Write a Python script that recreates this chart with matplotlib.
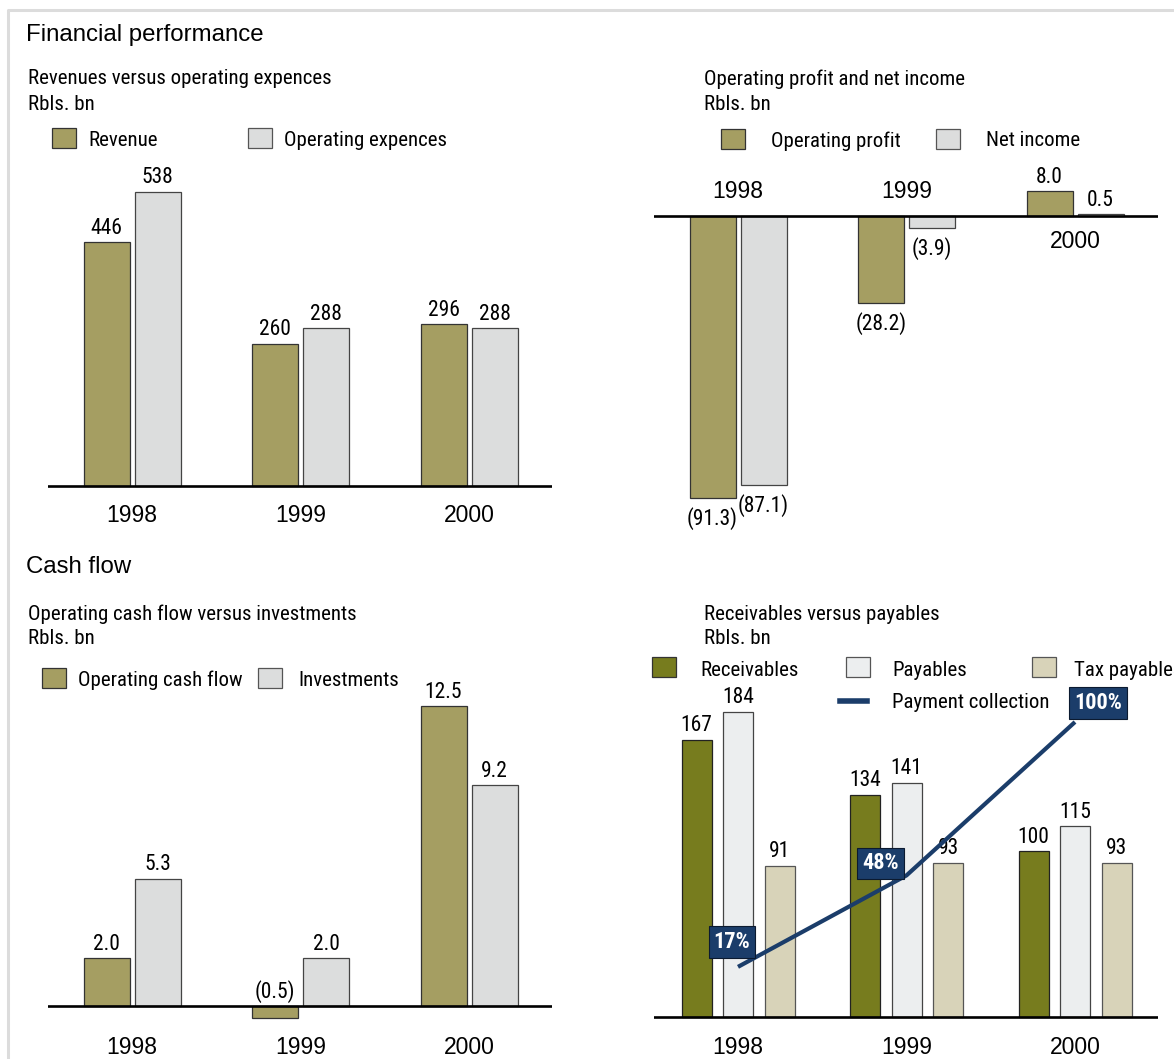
import matplotlib
matplotlib.use('Agg')
import matplotlib.pyplot as plt
from matplotlib import font_manager as fm
from matplotlib.patches import Rectangle
from matplotlib.lines import Line2D

# --- DATA ---
years = ['1998', '1999', '2000']

revenue = [446, 260, 296]
operating_expences = [538, 288, 288]

operating_profit = [-91.3, -28.2, 8.0]
net_income = [-87.1, -3.9, 0.5]

operating_cash_flow = [2.0, -0.5, 12.5]
investments = [5.3, 2.0, 9.2]

receivables = [167, 134, 100]
payables = [184, 141, 115]
tax_payables = [91, 93, 93]
payment_collection = [17, 48, 100]

# --- STYLE ---
W, H = 1174, 1059
C_KHAKI = '#a59e62'
C_GREY = '#dcdddd'
C_OLIVE = '#777c1e'
C_PALE = '#eceeef'
C_TAN = '#d8d3b9'
C_BLUE = '#1b3d6a'
SPACING = 168.5  # px between year groups


def find_font(patterns):
    # the original uses a condensed face; take the first condensed file we have
    files = [f.fname for f in fm.fontManager.ttflist]
    for p in patterns:
        for fn in files:
            if p in fn.split('/')[-1]:
                return fn
    return None


NARROW_FILE = find_font(['LiberationSansNarrow-Regular', 'RobotoCondensed-Regular',
                         'Roboto_Condensed-Regular', 'NotoSans-Condensed.',
                         'NotoSans-CondensedRegular', 'DejaVuSansCondensed.',
                         'OpenSans_Condensed-Regular', 'OpenSansCondensed-Regular'])
NARROW_BOLD_FILE = find_font(['LiberationSansNarrow-Bold.', 'RobotoCondensed-Bold.',
                              'Roboto_Condensed-Bold.', 'NotoSans-CondensedBold.',
                              'DejaVuSansCondensed-Bold.', 'OpenSans_Condensed-Bold.',
                              'OpenSansCondensed-Bold.'])


def narrow(size, bold=False):
    fn = NARROW_BOLD_FILE if bold else NARROW_FILE
    if fn:
        return fm.FontProperties(fname=fn, size=size)
    return fm.FontProperties(family=['Liberation Sans', 'DejaVu Sans'], size=size * 0.86,
                             weight='bold' if bold else 'normal')


def regular(size):
    return fm.FontProperties(family=['Liberation Sans', 'DejaVu Sans'], size=size)


fig = plt.figure(figsize=(W / 100, H / 100), dpi=100)


def fx(px):
    return px / W


def fy(py):
    return 1 - py / H


def panel(left, base, top, bottom, scale):
    # axes whose x unit is one year group and whose y unit is one data unit
    ax = fig.add_axes([fx(left), fy(bottom), fx(504), (bottom - top) / H])
    ax.set_xlim(-84 / SPACING, (504 - 84) / SPACING)
    ax.set_ylim(-(bottom - base) / scale, (base - top) / scale)
    ax.axis('off')
    ax.axhline(0, color='black', lw=1.9, zorder=5)
    return ax


def fmt(v, dec):
    s = f'{abs(v):.{dec}f}'
    return f'({s})' if v < 0 else s


def legend_patch(x, y, color, edge='#333333'):
    fig.patches.append(Rectangle((fx(x), fy(y + 20)), fx(24), 20 / H, facecolor=color,
                                 edgecolor=edge, lw=0.9, transform=fig.transFigure))


def ftext(x, y, s, fp=None):
    # y is the visual centre line in px; +2 compensates for descender space
    fig.text(fx(x), fy(y + 2), s, fontproperties=fp or narrow(15), va='center')


# page frame
fig.add_artist(Line2D([fx(8), fx(8), 1], [0, fy(10), fy(10)], color='#dcdcdc', lw=2.2,
                      transform=fig.transFigure))

# headings
ftext(26, 33, 'Financial performance', regular(17.3))
ftext(26, 565, 'Cash flow', regular(17.3))
ftext(28, 77, 'Revenues versus operating expences')
ftext(28, 102, 'Rbls. bn')
ftext(704, 77, 'Operating profit and net income')
ftext(704, 102, 'Rbls. bn')
ftext(28, 612, 'Operating cash flow versus investments')
ftext(28, 637, 'Rbls. bn')
ftext(704, 612, 'Receivables versus payables')
ftext(704, 637, 'Rbls. bn')

# legends
legend_patch(52, 128, C_KHAKI)
ftext(88, 138, 'Revenue')
legend_patch(248, 128, C_GREY, '#555555')
ftext(284, 138, 'Operating expences')

legend_patch(721, 129, C_KHAKI)
ftext(771, 139, 'Operating profit')
legend_patch(936, 129, C_GREY, '#555555')
ftext(986, 139, 'Net income')

legend_patch(42, 668, C_KHAKI)
ftext(78, 678, 'Operating cash flow')
legend_patch(258, 668, C_GREY, '#555555')
ftext(298, 678, 'Investments')

legend_patch(652, 657, C_OLIVE)
ftext(700, 668, 'Receivables')
legend_patch(846, 657, C_PALE, '#555555')
ftext(892, 668, 'Payables')
legend_patch(1032, 657, C_TAN, '#555555')
ftext(1074, 668, 'Tax payables')
fig.add_artist(Line2D([fx(840), fx(867)], [fy(701), fy(701)], color=C_BLUE, lw=4,
                      transform=fig.transFigure))
ftext(892, 700, 'Payment collection')

x = range(len(years))
bw = 46 / SPACING
off = 25.5 / SPACING


def bars(ax, series, colors, edges, width, offsets, dec, neg_above=False):
    for vals, c, e, o in zip(series, colors, edges, offsets):
        xs = [i + o for i in x]
        ax.bar(xs, vals, width=width, color=c, edgecolor=e, lw=0.9, zorder=3)
        for xi, v in zip(xs, vals):
            if v >= 0 or neg_above:
                ax.annotate(fmt(v, dec), (xi, max(v, 0)), xytext=(0, 2.5),
                            textcoords='offset points', ha='center', va='bottom',
                            fontproperties=narrow(15.5))
            else:
                ax.annotate(fmt(v, dec), (xi, v), xytext=(0, -6.5),
                            textcoords='offset points', ha='center', va='top',
                            fontproperties=narrow(15.5))


def year_labels(ax, dy_px, series=None):
    for i, yr in enumerate(years):
        d = dy_px
        if series is not None and max(s[i] for s in series) <= 0:
            d = -dy_px
        ax.annotate(yr, (i, 0), xytext=(0, -d * 0.72), textcoords='offset points',
                    ha='center', va='center', fontproperties=regular(16.5))


# panel 1: revenues vs operating expences
ax1 = panel(48, 486, 170, 530, 0.547)
bars(ax1, [revenue, operating_expences], [C_KHAKI, C_GREY], ['#333333', '#444444'],
     bw, [-off, off], 0)
year_labels(ax1, 29)

# panel 2: operating profit and net income
ax2 = panel(654, 216, 165, 535, 3.09)
bars(ax2, [operating_profit, net_income], [C_KHAKI, C_GREY], ['#333333', '#444444'],
     bw, [-off, off], 1)
year_labels(ax2, 25, [operating_profit, net_income])

# panel 3: operating cash flow vs investments
ax3 = panel(48, 1006, 690, 1059, 24.0)
bars(ax3, [operating_cash_flow, investments], [C_KHAKI, C_GREY], ['#333333', '#444444'],
     bw, [-off, off], 1, neg_above=True)
year_labels(ax3, 41)

# panel 4: receivables vs payables
ax4 = panel(654, 1017, 690, 1059, 1.66)
bw4 = 30 / SPACING
off4 = 41.5 / SPACING
bars(ax4, [receivables, payables, tax_payables], [C_OLIVE, C_PALE, C_TAN],
     ['#222222', '#444444', '#555555'], bw4, [-off4, 0, off4], 0)
year_labels(ax4, 30)

ax4b = ax4.twinx()
ax4b.set_ylim(-(1059 - 1017) / 2.95, (1017 - 690) / 2.95)
ax4b.axis('off')
ax4b.plot(list(x), payment_collection, color=C_BLUE, lw=3, zorder=6, solid_capstyle='butt')
box_off = [(-6, 25), (-26, 12), (23, 19)]
for i, (p, (dx, dy)) in enumerate(zip(payment_collection, box_off)):
    ax4b.annotate(f'{p}%', (i, p), xytext=(dx * 0.72, dy * 0.72), textcoords='offset points',
                  ha='center', va='center', fontproperties=narrow(16, bold=True),
                  color='white', zorder=7,
                  bbox=dict(boxstyle='square,pad=0.22', fc=C_BLUE, ec='#0b1a30', lw=0.8))

fig.savefig('out.png', dpi=100)
